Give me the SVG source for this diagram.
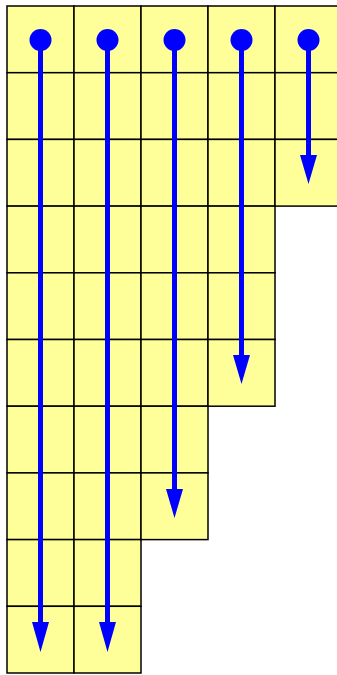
<svg xmlns="http://www.w3.org/2000/svg" width="337" height="675" viewBox="0 0 337 675">
<defs>
<style>
.cell{fill:#ffff99;stroke:#000;stroke-width:1.5}
.arr{stroke:#0000ff;stroke-width:5;fill:none}
.dot{fill:#0000ff}
.head{fill:#0000ff}
</style>
</defs>
<g id="grid">
<g id="col1">
<rect class="cell" x="7" y="6" width="67" height="66.7"/>
<rect class="cell" x="7" y="72.7" width="67" height="66.7"/>
<rect class="cell" x="7" y="139.4" width="67" height="66.7"/>
<rect class="cell" x="7" y="206.1" width="67" height="66.7"/>
<rect class="cell" x="7" y="272.8" width="67" height="66.7"/>
<rect class="cell" x="7" y="339.5" width="67" height="66.7"/>
<rect class="cell" x="7" y="406.2" width="67" height="66.7"/>
<rect class="cell" x="7" y="472.9" width="67" height="66.7"/>
<rect class="cell" x="7" y="539.6" width="67" height="66.7"/>
<rect class="cell" x="7" y="606.3" width="67" height="66.7"/>
</g>
<g id="col2">
<rect class="cell" x="74" y="6" width="67" height="66.7"/>
<rect class="cell" x="74" y="72.7" width="67" height="66.7"/>
<rect class="cell" x="74" y="139.4" width="67" height="66.7"/>
<rect class="cell" x="74" y="206.1" width="67" height="66.7"/>
<rect class="cell" x="74" y="272.8" width="67" height="66.7"/>
<rect class="cell" x="74" y="339.5" width="67" height="66.7"/>
<rect class="cell" x="74" y="406.2" width="67" height="66.7"/>
<rect class="cell" x="74" y="472.9" width="67" height="66.7"/>
<rect class="cell" x="74" y="539.6" width="67" height="66.7"/>
<rect class="cell" x="74" y="606.3" width="67" height="66.7"/>
</g>
<g id="col3">
<rect class="cell" x="141" y="6" width="67" height="66.7"/>
<rect class="cell" x="141" y="72.7" width="67" height="66.7"/>
<rect class="cell" x="141" y="139.4" width="67" height="66.7"/>
<rect class="cell" x="141" y="206.1" width="67" height="66.7"/>
<rect class="cell" x="141" y="272.8" width="67" height="66.7"/>
<rect class="cell" x="141" y="339.5" width="67" height="66.7"/>
<rect class="cell" x="141" y="406.2" width="67" height="66.7"/>
<rect class="cell" x="141" y="472.9" width="67" height="66.7"/>
</g>
<g id="col4">
<rect class="cell" x="208" y="6" width="67" height="66.7"/>
<rect class="cell" x="208" y="72.7" width="67" height="66.7"/>
<rect class="cell" x="208" y="139.4" width="67" height="66.7"/>
<rect class="cell" x="208" y="206.1" width="67" height="66.7"/>
<rect class="cell" x="208" y="272.8" width="67" height="66.7"/>
<rect class="cell" x="208" y="339.5" width="67" height="66.7"/>
</g>
<g id="col5">
<rect class="cell" x="275" y="6" width="67" height="66.7"/>
<rect class="cell" x="275" y="72.7" width="67" height="66.7"/>
<rect class="cell" x="275" y="139.4" width="67" height="66.7"/>
</g>
</g>
<g id="connectors">
<g id="arrow1">
<circle class="dot" cx="40.5" cy="40" r="11"/>
<line class="arr" x1="40.5" y1="40" x2="40.5" y2="625"/>
<polygon class="head" points="32,622 49,622 40.5,652"/>
</g>
<g id="arrow2">
<circle class="dot" cx="107.5" cy="40" r="11"/>
<line class="arr" x1="107.5" y1="40" x2="107.5" y2="625"/>
<polygon class="head" points="99,622 116,622 107.5,652"/>
</g>
<g id="arrow3">
<circle class="dot" cx="174.5" cy="40" r="11"/>
<line class="arr" x1="174.5" y1="40" x2="174.5" y2="492"/>
<polygon class="head" points="166,489 183,489 174.5,518"/>
</g>
<g id="arrow4">
<circle class="dot" cx="241.5" cy="40" r="11"/>
<line class="arr" x1="241.5" y1="40" x2="241.5" y2="358"/>
<polygon class="head" points="233,355 250,355 241.5,384"/>
</g>
<g id="arrow5">
<circle class="dot" cx="308.5" cy="40" r="11"/>
<line class="arr" x1="308.5" y1="40" x2="308.5" y2="158"/>
<polygon class="head" points="300,155 317,155 308.5,184"/>
</g>
</g>
</svg>
